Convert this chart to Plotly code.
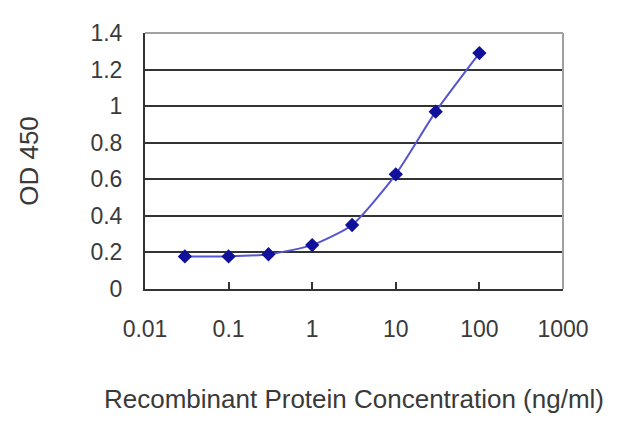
import plotly.graph_objects as go

concentration = [0.03, 0.1, 0.3, 1, 3, 10, 30, 100]
od450 = [0.178, 0.178, 0.19, 0.24, 0.35, 0.627, 0.97, 1.29]

x_tickvals = [0.01, 0.1, 1, 10, 100, 1000]
x_ticktext = ["0.01", "0.1", "1", "10", "100", "1000"]
y_tickvals = [0, 0.2, 0.4, 0.6, 0.8, 1, 1.2, 1.4]
y_ticktext = ["0", "0.2", "0.4", "0.6", "0.8", "1", "1.2", "1.4"]

font = "Liberation Sans, Arial, sans-serif"

fig = go.Figure()
fig.add_trace(go.Scatter(
    x=concentration, y=od450, mode="lines+markers",
    line=dict(color="#5555d0", width=2, shape="spline", smoothing=0.6),
    marker=dict(symbol="diamond", size=11, color="#10109a"),
    showlegend=False,
))

fig.update_layout(
    width=632, height=419,
    margin=dict(l=137, r=77, t=19, b=138),
    paper_bgcolor="white", plot_bgcolor="white",
    font=dict(family=font, color="#3a3a3a", size=22),
    xaxis=dict(
        type="log", range=[-2, 3],
        tickvals=x_tickvals, ticktext=x_ticktext,
        ticks="inside", ticklen=7, tickcolor="#333333", tickwidth=1.5,
        showgrid=False, zeroline=False,
        showline=True, linecolor="#333333", linewidth=2,
        mirror=False,
        ticklabelstandoff=18,
        tickfont=dict(size=23),
        title=dict(text="Recombinant Protein Concentration (ng/ml)",
                   font=dict(size=26), standoff=49),
    ),
    yaxis=dict(
        range=[0, 1.4],
        tickvals=y_tickvals, ticktext=y_ticktext,
        ticks="", showgrid=True, gridcolor="#333333", gridwidth=2,
        zeroline=False,
        showline=True, linecolor="#333333", linewidth=2,
        ticklabelstandoff=16,
        tickfont=dict(size=23),
        title=dict(text="OD 450", font=dict(size=26), standoff=44),
    ),
    shapes=[
        dict(type="line", xref="paper", yref="paper", x0=0, x1=1, y0=1, y1=1,
             line=dict(color="#a0a0a0", width=2)),
        dict(type="line", xref="paper", yref="paper", x0=1, x1=1, y0=0, y1=1,
             line=dict(color="#a0a0a0", width=2)),
    ],
)

fig.write_html("out.html")
